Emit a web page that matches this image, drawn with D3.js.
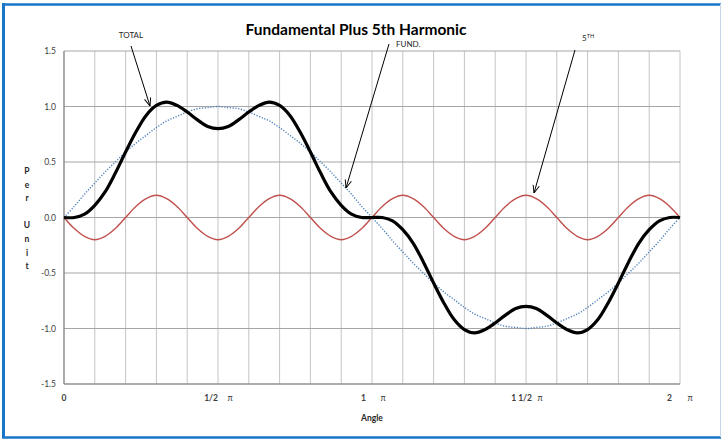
<!DOCTYPE html>
<html>
<head>
<meta charset="utf-8">
<script src="https://cdn.jsdelivr.net/npm/d3@7"></script>
<style>
  body { margin: 0; background: #fff; }
  text { font-family: Lato, "Open Sans", sans-serif; }
</style>
</head>
<body>
<div id="chart"></div>
<script>
// angle in degrees, sampled every 6 deg
const angles = d3.range(0, 361, 6);

const fundamental = [
  0, 0.10, 0.21, 0.31, 0.41, 0.50, 0.59, 0.67, 0.74, 0.81, 0.87, 0.91, 0.95, 0.98, 0.99, 1.00,
  0.99, 0.98, 0.95, 0.91, 0.87, 0.81, 0.74, 0.67, 0.59, 0.50, 0.41, 0.31, 0.21, 0.10, 0,
  -0.10, -0.21, -0.31, -0.41, -0.50, -0.59, -0.67, -0.74, -0.81, -0.87, -0.91, -0.95, -0.98, -0.99, -1.00,
  -0.99, -0.98, -0.95, -0.91, -0.87, -0.81, -0.74, -0.67, -0.59, -0.50, -0.41, -0.31, -0.21, -0.10, 0
];

const fifth = [
  0, -0.10, -0.17, -0.20, -0.17, -0.10, 0, 0.10, 0.17, 0.20, 0.17, 0.10,
  0, -0.10, -0.17, -0.20, -0.17, -0.10, 0, 0.10, 0.17, 0.20, 0.17, 0.10,
  0, -0.10, -0.17, -0.20, -0.17, -0.10, 0, 0.10, 0.17, 0.20, 0.17, 0.10,
  0, -0.10, -0.17, -0.20, -0.17, -0.10, 0, 0.10, 0.17, 0.20, 0.17, 0.10,
  0, -0.10, -0.17, -0.20, -0.17, -0.10, 0, 0.10, 0.17, 0.20, 0.17, 0.10,
  0
];

const total = [
  0, 0.00, 0.03, 0.11, 0.23, 0.40, 0.59, 0.77, 0.92, 1.01, 1.04, 1.01, 0.95, 0.88, 0.82, 0.80,
  0.82, 0.88, 0.95, 1.01, 1.04, 1.01, 0.92, 0.77, 0.59, 0.40, 0.23, 0.11, 0.03, 0.00, 0,
  0.00, -0.03, -0.11, -0.23, -0.40, -0.59, -0.77, -0.92, -1.01, -1.04, -1.01, -0.95, -0.88, -0.82, -0.80,
  -0.82, -0.88, -0.95, -1.01, -1.04, -1.01, -0.92, -0.77, -0.59, -0.40, -0.23, -0.11, -0.03, 0.00, 0
];

const yTicks = [-1.5, -1.0, -0.5, 0.0, 0.5, 1.0, 1.5];
const xGrid = d3.range(0, 361, 18);
const xTickDeg = [0, 90, 180, 270, 360];
const xTickNum = ["0", "1/2", "1", "1 1/2", "2"];
const xTickPi = ["", "π", "π", "π", "π"];

const labelNames = ["TOTAL", "FUND.", "5"];

const width = 722, height = 439;
const svg = d3.select("#chart").append("svg")
    .attr("width", width)
    .attr("height", height);

const x = d3.scaleLinear().domain([0, 360]).range([64, 680]);
const y = d3.scaleLinear().domain([-1.5, 1.5]).range([384, 51]);

// frame
svg.append("line").attr("x1", 3.5).attr("x2", 3.5).attr("y1", 3).attr("y2", 438)
    .attr("stroke", "#1677c8").attr("stroke-width", 3);
svg.append("line").attr("x1", 2).attr("x2", 721).attr("y1", 4.5).attr("y2", 4.5)
    .attr("stroke", "#1677c8").attr("stroke-width", 2.5);
svg.append("line").attr("x1", 2).attr("x2", 721).attr("y1", 437.5).attr("y2", 437.5)
    .attr("stroke", "#1677c8").attr("stroke-width", 2.5);
svg.append("line").attr("x1", 720.5).attr("x2", 720.5).attr("y1", 4).attr("y2", 437)
    .attr("stroke", "#c5d6e6").attr("stroke-width", 1);

// grid
svg.append("g").selectAll("line").data(xGrid).join("line")
    .attr("x1", d => x(d)).attr("x2", d => x(d))
    .attr("y1", y(1.5)).attr("y2", y(-1.5))
    .attr("stroke", "#c4c4c4").attr("stroke-width", 1);
svg.append("g").selectAll("line").data(yTicks).join("line")
    .attr("x1", x(0)).attr("x2", x(360))
    .attr("y1", d => y(d)).attr("y2", d => y(d))
    .attr("stroke", "#a6a6a6").attr("stroke-width", 1);

// axes lines
svg.append("line").attr("x1", x(0)).attr("x2", x(0)).attr("y1", y(1.5)).attr("y2", y(-1.5))
    .attr("stroke", "#868686").attr("stroke-width", 1.2);
svg.append("line").attr("x1", x(0)).attr("x2", x(360)).attr("y1", y(-1.5)).attr("y2", y(-1.5))
    .attr("stroke", "#868686").attr("stroke-width", 1.2);

// y tick labels
svg.append("g").selectAll("text").data(yTicks).join("text")
    .attr("x", 56).attr("y", d => y(d) + 3)
    .attr("text-anchor", "end")
    .attr("font-size", 8.5)
    .attr("fill", "#404040")
    .text(d => d.toFixed(1));

// x tick labels (number, then pi a little to the right)
const numShift = [0, 0, -6, 6, -8];
const piShift = [0, 12, 11, 14, 10];
xTickDeg.forEach((deg, i) => {
  svg.append("text")
      .attr("x", i === 0 ? x(deg) : x(deg) + numShift[i])
      .attr("y", 401)
      .attr("text-anchor", i === 0 ? "middle" : "end")
      .attr("font-size", 8.5).attr("font-weight", "bold").attr("fill", "#404040")
      .text(xTickNum[i]);
  if (xTickPi[i]) {
    svg.append("text")
        .attr("x", x(deg) + piShift[i]).attr("y", 401)
        .attr("text-anchor", "middle")
        .attr("font-size", 8.5).attr("fill", "#404040")
        .attr("font-family", "DejaVu Serif")
        .text(xTickPi[i]);
  }
});

// axis titles
svg.append("text").attr("x", 372).attr("y", 421)
    .attr("text-anchor", "middle").attr("font-size", 8.5).attr("font-weight", "bold")
    .attr("fill", "#262626").text("Angle");
const yLabel = "Per Unit".split("");
svg.append("g").selectAll("text").data(yLabel).join("text")
    .attr("x", 27).attr("y", (d, i) => 174 + i * 13.6)
    .attr("text-anchor", "middle").attr("font-size", 8.5).attr("font-weight", "bold")
    .attr("fill", "#262626").text(d => d);

// title
svg.append("text").attr("x", 356).attr("y", 35)
    .attr("text-anchor", "middle").attr("font-size", 15.5).attr("font-weight", "bold")
    .attr("fill", "#000").text("Fundamental Plus 5th Harmonic");

// series
const line = vals => d3.line()
    .x((d, i) => x(angles[i]))
    .y(d => y(d))
    .curve(d3.curveCatmullRom.alpha(0.5))(vals);

svg.append("path").attr("d", line(fifth))
    .attr("fill", "none").attr("stroke", "#c0504d").attr("stroke-width", 1.4);
svg.append("path").attr("d", line(fundamental))
    .attr("fill", "none").attr("stroke", "#4a7ebb").attr("stroke-width", 1.4)
    .attr("stroke-dasharray", "1.2,1.6");
svg.append("path").attr("d", line(total))
    .attr("fill", "none").attr("stroke", "#000").attr("stroke-width", 3.2);

// annotation arrows
const defs = svg.append("defs");
defs.append("marker").attr("id", "arrow")
    .attr("viewBox", "0 0 10 10").attr("refX", 10).attr("refY", 5)
    .attr("markerWidth", 8).attr("markerHeight", 8).attr("orient", "auto")
    .attr("markerUnits", "userSpaceOnUse")
  .append("path").attr("d", "M0,1 L10,5 L0,9")
    .attr("fill", "none").attr("stroke", "#000").attr("stroke-width", 1.2);

const arrowDefs = [
  {lx: 131, ly: 38, anchor: "middle", x1: 131, y1: 46, x2: 150, y2: 106},
  {lx: 396, ly: 47, anchor: "start", x1: 389, y1: 44, x2: 346, y2: 188},
  {lx: 582, ly: 41, anchor: "start", x1: 575, y1: 50, x2: 534, y2: 193}
];
arrowDefs.forEach((a, i) => {
  svg.append("line")
      .attr("x1", a.x1).attr("y1", a.y1)
      .attr("x2", a.x2).attr("y2", a.y2)
      .attr("stroke", "#000").attr("stroke-width", 1)
      .attr("marker-end", "url(#arrow)");
  const t = svg.append("text")
      .attr("x", a.lx).attr("y", a.ly)
      .attr("text-anchor", a.anchor)
      .attr("font-size", 8).attr("fill", "#262626")
      .text(labelNames[i]);
  if (i === 2) {
    t.append("tspan").attr("dy", -3).attr("font-size", 5.5).text("TH");
  }
});
</script>
</body>
</html>
